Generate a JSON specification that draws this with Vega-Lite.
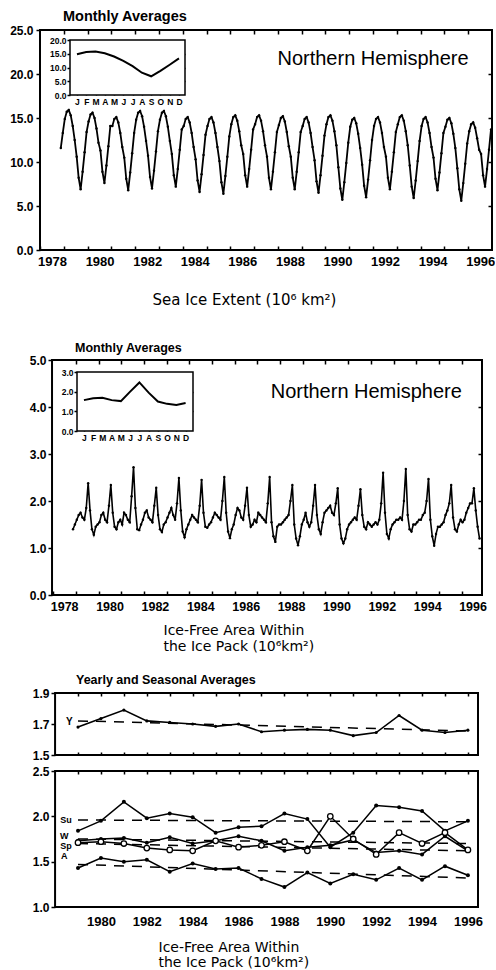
{
"$schema": "https://vega.github.io/schema/vega-lite/v6.json",
"padding": {"left": 9, "top": 8, "right": 0, "bottom": 0},
"config": {
  "view": {"stroke": null},
  "axis": {"grid": false, "domain": false, "labelFont": "Liberation Sans", "labelFontWeight": "bold", "labelColor": "black", "tickColor": "black", "tickWidth": 1.5, "titleFont": "DejaVu Sans", "titleFontWeight": "normal", "titleColor": "black", "labelFlush": false, "labelOverlap": false},
  "title": {"font": "Liberation Sans", "fontWeight": "bold", "color": "black", "anchor": "start", "frame": "group"}
},
"datasets": {
  "ext": [
    {"t":1978.875,"v":11.6},{"t":1978.958,"v":13.3},
    {"t":1979.042,"v":14.9},{"t":1979.125,"v":15.7},{"t":1979.208,"v":15.9},{"t":1979.292,"v":15.3},{"t":1979.375,"v":14.1},{"t":1979.458,"v":12.5},{"t":1979.542,"v":10.6},{"t":1979.625,"v":8.2},{"t":1979.708,"v":6.9},{"t":1979.792,"v":8.9},{"t":1979.875,"v":11.1},{"t":1979.958,"v":13.4},
    {"t":1980.042,"v":14.6},{"t":1980.125,"v":15.4},{"t":1980.208,"v":15.6},{"t":1980.292,"v":15.0},{"t":1980.375,"v":13.8},{"t":1980.458,"v":12.2},{"t":1980.542,"v":11.3},{"t":1980.625,"v":8.9},{"t":1980.708,"v":7.6},{"t":1980.792,"v":9.6},{"t":1980.875,"v":11.8},{"t":1980.958,"v":14.1},
    {"t":1981.042,"v":14.1},{"t":1981.125,"v":14.9},{"t":1981.208,"v":15.1},{"t":1981.292,"v":14.5},{"t":1981.375,"v":13.3},{"t":1981.458,"v":11.7},{"t":1981.542,"v":10.5},{"t":1981.625,"v":8.1},{"t":1981.708,"v":6.8},{"t":1981.792,"v":8.8},{"t":1981.875,"v":11.0},{"t":1981.958,"v":13.3},
    {"t":1982.042,"v":14.8},{"t":1982.125,"v":15.6},{"t":1982.208,"v":15.8},{"t":1982.292,"v":15.2},{"t":1982.375,"v":14.0},{"t":1982.458,"v":12.4},{"t":1982.542,"v":10.7},{"t":1982.625,"v":8.3},{"t":1982.708,"v":7.0},{"t":1982.792,"v":9.0},{"t":1982.875,"v":11.2},{"t":1982.958,"v":13.5},
    {"t":1983.042,"v":14.8},{"t":1983.125,"v":15.6},{"t":1983.208,"v":15.8},{"t":1983.292,"v":15.2},{"t":1983.375,"v":14.0},{"t":1983.458,"v":12.4},{"t":1983.542,"v":10.9},{"t":1983.625,"v":8.5},{"t":1983.708,"v":7.2},{"t":1983.792,"v":9.2},{"t":1983.875,"v":11.4},{"t":1983.958,"v":13.7},
    {"t":1984.042,"v":14.1},{"t":1984.125,"v":14.9},{"t":1984.208,"v":15.1},{"t":1984.292,"v":14.5},{"t":1984.375,"v":13.3},{"t":1984.458,"v":11.7},{"t":1984.542,"v":10.3},{"t":1984.625,"v":7.9},{"t":1984.708,"v":6.6},{"t":1984.792,"v":8.6},{"t":1984.875,"v":10.8},{"t":1984.958,"v":13.1},
    {"t":1985.042,"v":14.1},{"t":1985.125,"v":14.9},{"t":1985.208,"v":15.1},{"t":1985.292,"v":14.5},{"t":1985.375,"v":13.3},{"t":1985.458,"v":11.7},{"t":1985.542,"v":10.1},{"t":1985.625,"v":7.7},{"t":1985.708,"v":6.4},{"t":1985.792,"v":8.4},{"t":1985.875,"v":10.6},{"t":1985.958,"v":12.9},
    {"t":1986.042,"v":14.3},{"t":1986.125,"v":15.1},{"t":1986.208,"v":15.3},{"t":1986.292,"v":14.7},{"t":1986.375,"v":13.5},{"t":1986.458,"v":11.9},{"t":1986.542,"v":10.9},{"t":1986.625,"v":8.5},{"t":1986.708,"v":7.2},{"t":1986.792,"v":9.2},{"t":1986.875,"v":11.4},{"t":1986.958,"v":13.7},
    {"t":1987.042,"v":14.3},{"t":1987.125,"v":15.1},{"t":1987.208,"v":15.3},{"t":1987.292,"v":14.7},{"t":1987.375,"v":13.5},{"t":1987.458,"v":11.9},{"t":1987.542,"v":10.6},{"t":1987.625,"v":8.2},{"t":1987.708,"v":6.9},{"t":1987.792,"v":8.9},{"t":1987.875,"v":11.1},{"t":1987.958,"v":13.4},
    {"t":1988.042,"v":14.2},{"t":1988.125,"v":15.0},{"t":1988.208,"v":15.2},{"t":1988.292,"v":14.6},{"t":1988.375,"v":13.4},{"t":1988.458,"v":11.8},{"t":1988.542,"v":10.6},{"t":1988.625,"v":8.2},{"t":1988.708,"v":6.9},{"t":1988.792,"v":8.9},{"t":1988.875,"v":11.1},{"t":1988.958,"v":13.4},
    {"t":1989.042,"v":14.1},{"t":1989.125,"v":14.9},{"t":1989.208,"v":15.1},{"t":1989.292,"v":14.5},{"t":1989.375,"v":13.3},{"t":1989.458,"v":11.7},{"t":1989.542,"v":10.2},{"t":1989.625,"v":7.8},{"t":1989.708,"v":6.5},{"t":1989.792,"v":8.5},{"t":1989.875,"v":10.7},{"t":1989.958,"v":13.0},
    {"t":1990.042,"v":14.3},{"t":1990.125,"v":15.1},{"t":1990.208,"v":15.3},{"t":1990.292,"v":14.7},{"t":1990.375,"v":13.5},{"t":1990.458,"v":11.9},{"t":1990.542,"v":9.4},{"t":1990.625,"v":7.0},{"t":1990.708,"v":5.7},{"t":1990.792,"v":7.7},{"t":1990.875,"v":9.9},{"t":1990.958,"v":12.2},
    {"t":1991.042,"v":14.0},{"t":1991.125,"v":14.8},{"t":1991.208,"v":15.0},{"t":1991.292,"v":14.4},{"t":1991.375,"v":13.2},{"t":1991.458,"v":11.6},{"t":1991.542,"v":9.7},{"t":1991.625,"v":7.3},{"t":1991.708,"v":6.0},{"t":1991.792,"v":8.0},{"t":1991.875,"v":10.2},{"t":1991.958,"v":12.5},
    {"t":1992.042,"v":14.1},{"t":1992.125,"v":14.9},{"t":1992.208,"v":15.1},{"t":1992.292,"v":14.5},{"t":1992.375,"v":13.3},{"t":1992.458,"v":11.7},{"t":1992.542,"v":10.6},{"t":1992.625,"v":8.2},{"t":1992.708,"v":6.9},{"t":1992.792,"v":8.9},{"t":1992.875,"v":11.1},{"t":1992.958,"v":13.4},
    {"t":1993.042,"v":14.3},{"t":1993.125,"v":15.1},{"t":1993.208,"v":15.3},{"t":1993.292,"v":14.7},{"t":1993.375,"v":13.5},{"t":1993.458,"v":11.9},{"t":1993.542,"v":9.6},{"t":1993.625,"v":7.2},{"t":1993.708,"v":5.9},{"t":1993.792,"v":7.9},{"t":1993.875,"v":10.1},{"t":1993.958,"v":12.4},
    {"t":1994.042,"v":14.1},{"t":1994.125,"v":14.9},{"t":1994.208,"v":15.1},{"t":1994.292,"v":14.5},{"t":1994.375,"v":13.3},{"t":1994.458,"v":11.7},{"t":1994.542,"v":10.5},{"t":1994.625,"v":8.1},{"t":1994.708,"v":6.8},{"t":1994.792,"v":8.8},{"t":1994.875,"v":11.0},{"t":1994.958,"v":13.3},
    {"t":1995.042,"v":14.0},{"t":1995.125,"v":14.8},{"t":1995.208,"v":15.0},{"t":1995.292,"v":14.4},{"t":1995.375,"v":13.2},{"t":1995.458,"v":11.6},{"t":1995.542,"v":9.3},{"t":1995.625,"v":6.9},{"t":1995.708,"v":5.6},{"t":1995.792,"v":7.6},{"t":1995.875,"v":9.8},{"t":1995.958,"v":12.1},
    {"t":1996.042,"v":13.5},{"t":1996.125,"v":14.3},{"t":1996.208,"v":14.5},{"t":1996.292,"v":13.9},{"t":1996.375,"v":12.7},{"t":1996.458,"v":11.4},{"t":1996.542,"v":10.9},{"t":1996.625,"v":8.5},{"t":1996.708,"v":7.2},{"t":1996.792,"v":9.2},{"t":1996.875,"v":11.4},{"t":1996.958,"v":13.7}
  ],
  "extClim": [
    {"m":1,"v":14.8},{"m":2,"v":15.6},{"m":3,"v":15.8},{"m":4,"v":15.2},{"m":5,"v":14.0},{"m":6,"v":12.4},{"m":7,"v":10.5},{"m":8,"v":8.1},{"m":9,"v":6.8},{"m":10,"v":8.8},{"m":11,"v":11.0},{"m":12,"v":13.3}
  ],
  "ifa": [
    {"t":1978.875,"v":1.40},{"t":1978.958,"v":1.50},
    {"t":1979.042,"v":1.60},{"t":1979.125,"v":1.70},{"t":1979.208,"v":1.75},{"t":1979.292,"v":1.65},{"t":1979.375,"v":1.60},{"t":1979.458,"v":1.85},{"t":1979.542,"v":2.38},{"t":1979.625,"v":1.80},{"t":1979.708,"v":1.40},{"t":1979.792,"v":1.28},{"t":1979.875,"v":1.45},{"t":1979.958,"v":1.50},
    {"t":1980.042,"v":1.55},{"t":1980.125,"v":1.70},{"t":1980.208,"v":1.75},{"t":1980.292,"v":1.60},{"t":1980.375,"v":1.55},{"t":1980.458,"v":1.90},{"t":1980.542,"v":2.34},{"t":1980.625,"v":1.75},{"t":1980.708,"v":1.45},{"t":1980.792,"v":1.40},{"t":1980.875,"v":1.55},{"t":1980.958,"v":1.60},
    {"t":1981.042,"v":1.50},{"t":1981.125,"v":1.75},{"t":1981.208,"v":1.70},{"t":1981.292,"v":1.60},{"t":1981.375,"v":1.55},{"t":1981.458,"v":2.10},{"t":1981.542,"v":2.72},{"t":1981.625,"v":1.85},{"t":1981.708,"v":1.40},{"t":1981.792,"v":1.38},{"t":1981.875,"v":1.50},{"t":1981.958,"v":1.60},
    {"t":1982.042,"v":1.75},{"t":1982.125,"v":1.80},{"t":1982.208,"v":1.65},{"t":1982.292,"v":1.60},{"t":1982.375,"v":1.55},{"t":1982.458,"v":1.90},{"t":1982.542,"v":2.28},{"t":1982.625,"v":1.70},{"t":1982.708,"v":1.40},{"t":1982.792,"v":1.34},{"t":1982.875,"v":1.50},{"t":1982.958,"v":1.55},
    {"t":1983.042,"v":1.65},{"t":1983.125,"v":1.75},{"t":1983.208,"v":1.85},{"t":1983.292,"v":1.70},{"t":1983.375,"v":1.60},{"t":1983.458,"v":1.95},{"t":1983.542,"v":2.49},{"t":1983.625,"v":1.80},{"t":1983.708,"v":1.35},{"t":1983.792,"v":1.23},{"t":1983.875,"v":1.40},{"t":1983.958,"v":1.50},
    {"t":1984.042,"v":1.60},{"t":1984.125,"v":1.70},{"t":1984.208,"v":1.65},{"t":1984.292,"v":1.60},{"t":1984.375,"v":1.55},{"t":1984.458,"v":1.90},{"t":1984.542,"v":2.45},{"t":1984.625,"v":1.75},{"t":1984.708,"v":1.45},{"t":1984.792,"v":1.43},{"t":1984.875,"v":1.50},{"t":1984.958,"v":1.55},
    {"t":1985.042,"v":1.65},{"t":1985.125,"v":1.75},{"t":1985.208,"v":1.70},{"t":1985.292,"v":1.65},{"t":1985.375,"v":1.60},{"t":1985.458,"v":2.00},{"t":1985.542,"v":2.51},{"t":1985.625,"v":1.75},{"t":1985.708,"v":1.35},{"t":1985.792,"v":1.21},{"t":1985.875,"v":1.40},{"t":1985.958,"v":1.50},
    {"t":1986.042,"v":1.70},{"t":1986.125,"v":1.85},{"t":1986.208,"v":1.80},{"t":1986.292,"v":1.65},{"t":1986.375,"v":1.60},{"t":1986.458,"v":1.90},{"t":1986.542,"v":2.28},{"t":1986.625,"v":1.70},{"t":1986.708,"v":1.45},{"t":1986.792,"v":1.50},{"t":1986.875,"v":1.60},{"t":1986.958,"v":1.55},
    {"t":1987.042,"v":1.75},{"t":1987.125,"v":1.70},{"t":1987.208,"v":1.65},{"t":1987.292,"v":1.60},{"t":1987.375,"v":1.55},{"t":1987.458,"v":1.95},{"t":1987.542,"v":2.51},{"t":1987.625,"v":1.55},{"t":1987.708,"v":1.25},{"t":1987.792,"v":1.13},{"t":1987.875,"v":1.45},{"t":1987.958,"v":1.50},
    {"t":1988.042,"v":1.50},{"t":1988.125,"v":1.55},{"t":1988.208,"v":1.60},{"t":1988.292,"v":1.65},{"t":1988.375,"v":1.70},{"t":1988.458,"v":2.00},{"t":1988.542,"v":2.34},{"t":1988.625,"v":1.50},{"t":1988.708,"v":1.20},{"t":1988.792,"v":1.06},{"t":1988.875,"v":1.25},{"t":1988.958,"v":1.50},
    {"t":1989.042,"v":1.60},{"t":1989.125,"v":1.75},{"t":1989.208,"v":1.55},{"t":1989.292,"v":1.45},{"t":1989.375,"v":1.55},{"t":1989.458,"v":1.90},{"t":1989.542,"v":2.34},{"t":1989.625,"v":1.70},{"t":1989.708,"v":1.40},{"t":1989.792,"v":1.30},{"t":1989.875,"v":1.55},{"t":1989.958,"v":1.75},
    {"t":1990.042,"v":1.80},{"t":1990.125,"v":1.85},{"t":1990.208,"v":1.90},{"t":1990.292,"v":1.75},{"t":1990.375,"v":1.70},{"t":1990.458,"v":1.95},{"t":1990.542,"v":2.27},{"t":1990.625,"v":1.50},{"t":1990.708,"v":1.20},{"t":1990.792,"v":1.10},{"t":1990.875,"v":1.20},{"t":1990.958,"v":1.40},
    {"t":1991.042,"v":1.50},{"t":1991.125,"v":1.55},{"t":1991.208,"v":1.60},{"t":1991.292,"v":1.65},{"t":1991.375,"v":1.60},{"t":1991.458,"v":1.90},{"t":1991.542,"v":2.25},{"t":1991.625,"v":1.70},{"t":1991.708,"v":1.45},{"t":1991.792,"v":1.40},{"t":1991.875,"v":1.55},{"t":1991.958,"v":1.50},
    {"t":1992.042,"v":1.45},{"t":1992.125,"v":1.50},{"t":1992.208,"v":1.55},{"t":1992.292,"v":1.50},{"t":1992.375,"v":1.60},{"t":1992.458,"v":1.95},{"t":1992.542,"v":2.60},{"t":1992.625,"v":1.75},{"t":1992.708,"v":1.30},{"t":1992.792,"v":1.20},{"t":1992.875,"v":1.40},{"t":1992.958,"v":1.50},
    {"t":1993.042,"v":1.55},{"t":1993.125,"v":1.60},{"t":1993.208,"v":1.60},{"t":1993.292,"v":1.65},{"t":1993.375,"v":1.60},{"t":1993.458,"v":2.00},{"t":1993.542,"v":2.68},{"t":1993.625,"v":1.70},{"t":1993.708,"v":1.40},{"t":1993.792,"v":1.35},{"t":1993.875,"v":1.50},{"t":1993.958,"v":1.50},
    {"t":1994.042,"v":1.55},{"t":1994.125,"v":1.60},{"t":1994.208,"v":1.60},{"t":1994.292,"v":1.70},{"t":1994.375,"v":1.75},{"t":1994.458,"v":2.00},{"t":1994.542,"v":2.47},{"t":1994.625,"v":1.60},{"t":1994.708,"v":1.25},{"t":1994.792,"v":1.05},{"t":1994.875,"v":1.30},{"t":1994.958,"v":1.45},
    {"t":1995.042,"v":1.45},{"t":1995.125,"v":1.50},{"t":1995.208,"v":1.55},{"t":1995.292,"v":1.70},{"t":1995.375,"v":1.80},{"t":1995.458,"v":1.95},{"t":1995.542,"v":2.34},{"t":1995.625,"v":1.65},{"t":1995.708,"v":1.40},{"t":1995.792,"v":1.35},{"t":1995.875,"v":1.50},{"t":1995.958,"v":1.60},
    {"t":1996.042,"v":1.55},{"t":1996.125,"v":1.60},{"t":1996.208,"v":1.75},{"t":1996.292,"v":1.85},{"t":1996.375,"v":1.95},{"t":1996.458,"v":1.95},{"t":1996.542,"v":2.27},{"t":1996.625,"v":1.80},{"t":1996.708,"v":1.45},{"t":1996.792,"v":1.20}
  ],
  "ifaClim": [
    {"m":1,"v":1.57},{"m":2,"v":1.66},{"m":3,"v":1.69},{"m":4,"v":1.57},{"m":5,"v":1.52},{"m":6,"v":2.0},{"m":7,"v":2.47},{"m":8,"v":1.95},{"m":9,"v":1.5},{"m":10,"v":1.38},{"m":11,"v":1.32},{"m":12,"v":1.42}
  ],
  "yearly": [
    {"yr":1979,"v":1.68},{"yr":1980,"v":1.735},{"yr":1981,"v":1.79},{"yr":1982,"v":1.72},{"yr":1983,"v":1.71},{"yr":1984,"v":1.70},{"yr":1985,"v":1.685},{"yr":1986,"v":1.70},{"yr":1987,"v":1.65},{"yr":1988,"v":1.66},{"yr":1989,"v":1.665},{"yr":1990,"v":1.66},{"yr":1991,"v":1.625},{"yr":1992,"v":1.645},{"yr":1993,"v":1.755},{"yr":1994,"v":1.66},{"yr":1995,"v":1.645},{"yr":1996,"v":1.66}
  ],
  "trendY": [
    {"yr":1979,"v":1.72},{"yr":1996,"v":1.655}
  ],
  "seas": [
    {"s":"Su","yr":1979,"v":1.84},{"s":"Su","yr":1980,"v":1.95},{"s":"Su","yr":1981,"v":2.16},{"s":"Su","yr":1982,"v":1.98},{"s":"Su","yr":1983,"v":2.03},{"s":"Su","yr":1984,"v":1.99},{"s":"Su","yr":1985,"v":1.82},{"s":"Su","yr":1986,"v":1.88},{"s":"Su","yr":1987,"v":1.89},{"s":"Su","yr":1988,"v":2.03},{"s":"Su","yr":1989,"v":1.97},{"s":"Su","yr":1990,"v":1.66},{"s":"Su","yr":1991,"v":1.82},{"s":"Su","yr":1992,"v":2.12},{"s":"Su","yr":1993,"v":2.10},{"s":"Su","yr":1994,"v":2.06},{"s":"Su","yr":1995,"v":1.84},{"s":"Su","yr":1996,"v":1.95},
    {"s":"W","yr":1979,"v":1.73},{"s":"W","yr":1980,"v":1.75},{"s":"W","yr":1981,"v":1.76},{"s":"W","yr":1982,"v":1.71},{"s":"W","yr":1983,"v":1.77},{"s":"W","yr":1984,"v":1.70},{"s":"W","yr":1985,"v":1.73},{"s":"W","yr":1986,"v":1.78},{"s":"W","yr":1987,"v":1.73},{"s":"W","yr":1988,"v":1.62},{"s":"W","yr":1989,"v":1.66},{"s":"W","yr":1990,"v":1.68},{"s":"W","yr":1991,"v":1.74},{"s":"W","yr":1992,"v":1.60},{"s":"W","yr":1993,"v":1.62},{"s":"W","yr":1994,"v":1.58},{"s":"W","yr":1995,"v":1.78},{"s":"W","yr":1996,"v":1.62},
    {"s":"Sp","yr":1979,"v":1.71},{"s":"Sp","yr":1980,"v":1.72},{"s":"Sp","yr":1981,"v":1.70},{"s":"Sp","yr":1982,"v":1.65},{"s":"Sp","yr":1983,"v":1.63},{"s":"Sp","yr":1984,"v":1.62},{"s":"Sp","yr":1985,"v":1.73},{"s":"Sp","yr":1986,"v":1.66},{"s":"Sp","yr":1987,"v":1.68},{"s":"Sp","yr":1988,"v":1.72},{"s":"Sp","yr":1989,"v":1.62},{"s":"Sp","yr":1990,"v":2.00},{"s":"Sp","yr":1991,"v":1.75},{"s":"Sp","yr":1992,"v":1.58},{"s":"Sp","yr":1993,"v":1.82},{"s":"Sp","yr":1994,"v":1.70},{"s":"Sp","yr":1995,"v":1.82},{"s":"Sp","yr":1996,"v":1.63},
    {"s":"A","yr":1979,"v":1.43},{"s":"A","yr":1980,"v":1.54},{"s":"A","yr":1981,"v":1.50},{"s":"A","yr":1982,"v":1.52},{"s":"A","yr":1983,"v":1.39},{"s":"A","yr":1984,"v":1.48},{"s":"A","yr":1985,"v":1.42},{"s":"A","yr":1986,"v":1.43},{"s":"A","yr":1987,"v":1.31},{"s":"A","yr":1988,"v":1.22},{"s":"A","yr":1989,"v":1.38},{"s":"A","yr":1990,"v":1.26},{"s":"A","yr":1991,"v":1.36},{"s":"A","yr":1992,"v":1.30},{"s":"A","yr":1993,"v":1.43},{"s":"A","yr":1994,"v":1.30},{"s":"A","yr":1995,"v":1.45},{"s":"A","yr":1996,"v":1.35}
  ],
  "trendS": [
    {"s":"Su","yr":1979,"v":1.96},{"s":"Su","yr":1996,"v":1.94},
    {"s":"W","yr":1979,"v":1.75},{"s":"W","yr":1996,"v":1.70},
    {"s":"Sp","yr":1979,"v":1.70},{"s":"Sp","yr":1996,"v":1.62},
    {"s":"A","yr":1979,"v":1.47},{"s":"A","yr":1996,"v":1.32}
  ],
  "labs": [
    {"s":"Su","yr":1978.48,"v":1.96},{"s":"W","yr":1978.4,"v":1.78},{"s":"Sp","yr":1978.48,"v":1.67},{"s":"A","yr":1978.4,"v":1.56}
  ]
},
"vconcat": [
  {
    "width": 452, "height": 220,
    "title": {"text": "Monthly Averages", "dx": 23, "offset": 0, "fontSize": 14.5},
    "layer": [
      {"layer": [
        {"data": {"values": [{}]},
         "mark": {"type": "rect", "fill": null, "stroke": "black", "strokeWidth": 2},
         "encoding": {
           "x": {"datum": 1978, "type": "quantitative", "scale": {"domain": [1978, 1997], "nice": false, "zero": false},
                 "axis": {"orient": "top", "values": [1979,1980,1981,1982,1983,1984,1985,1986,1987,1988,1989,1990,1991,1992,1993,1994,1995,1996], "tickCount": 25, "labels": false, "tickSize": -4, "title": null}},
           "x2": {"datum": 1997},
           "y": {"datum": 0, "type": "quantitative", "scale": {"domain": [0, 25], "nice": false, "zero": false},
                 "axis": {"orient": "right", "values": [5,10,15,20], "tickCount": 10, "labels": false, "tickSize": -4, "title": null}},
           "y2": {"datum": 25}
         }},
        {"layer": [
          {"data": {"name": "ext"},
           "mark": {"type": "line", "color": "black", "strokeWidth": 1.8, "point": {"filled": true, "size": 6, "color": "black"}},
           "encoding": {
             "x": {"field": "t", "type": "quantitative",
                   "axis": {"orient": "bottom", "values": [1978,1979,1980,1981,1982,1983,1984,1985,1986,1987,1988,1989,1990,1991,1992,1993,1994,1995,1996], "tickCount": 25, "format": "d", "labelExpr": "datum.value % 2 == 0 ? datum.label : ''", "labelOffset": 12, "tickSize": -4, "labelPadding": 9, "labelFontSize": 13, "title": "Sea Ice Extent (10⁶ km²)", "titleFontSize": 15, "titleX": 204, "titleY": 49, "titleBaseline": "middle", "titleAlign": "center"}},
             "y": {"field": "v", "type": "quantitative",
                   "axis": {"orient": "left", "values": [0,5,10,15,20,25], "tickCount": 10, "format": ".1f", "tickSize": 4, "labelPadding": 3, "labelFontSize": 12, "title": null}}
           }},
          {"data": {"values": [{}]},
           "mark": {"type": "text", "text": "Northern Hemisphere", "font": "Liberation Sans", "fontSize": 20, "align": "center", "baseline": "alphabetic"},
           "encoding": {"x": {"datum": 1992.0, "type": "quantitative"}, "y": {"datum": 21.0, "type": "quantitative"}}}
        ]}
      ],
      "resolve": {"axis": {"x": "independent", "y": "independent"}}},
      {"layer": [
        {"data": {"values": [{}]},
         "mark": {"type": "rect", "fill": "white", "stroke": "black", "strokeWidth": 1.5},
         "encoding": {
           "x": {"datum": 0.25, "type": "quantitative", "scale": {"domain": [0.25, 12.65], "range": [30, 145], "nice": false, "zero": false},
                 "axis": {"orient": "top", "offset": -10, "values": [1,2,3,4,5,6,7,8,9,10,11,12], "tickCount": 20, "labels": false, "tickSize": -3, "title": null}},
           "x2": {"datum": 12.65},
           "y": {"datum": 0, "type": "quantitative", "scale": {"domain": [0, 20], "range": [65, 10], "nice": false, "zero": false},
                 "axis": {"orient": "right", "offset": -307, "values": [5,10,15], "tickCount": 10, "labels": false, "tickSize": -3, "title": null}},
           "y2": {"datum": 20}
         }},
        {"data": {"name": "extClim"},
         "mark": {"type": "line", "color": "black", "strokeWidth": 2},
         "encoding": {
           "x": {"field": "m", "type": "quantitative",
                 "axis": {"orient": "bottom", "offset": -155, "values": [1,2,3,4,5,6,7,8,9,10,11,12], "tickCount": 20, "labelExpr": "substring('JFMAMJJASOND', datum.value - 1, datum.value)", "tickSize": -3, "labelPadding": 5, "labelFontSize": 8.5, "title": null}},
           "y": {"field": "v", "type": "quantitative",
                 "axis": {"orient": "left", "offset": -30, "values": [0,5,10,15,20], "tickCount": 10, "format": ".1f", "tickSize": 3, "labelPadding": 1, "labelFontSize": 8.5, "title": null}}
         }}
      ],
      "resolve": {"axis": {"x": "independent", "y": "independent"}}}
    ],
    "resolve": {"scale": {"x": "independent", "y": "independent"}}
  },
  {
    "bounds": "flush",
    "spacing": 98,
    "vconcat": [
      {
        "width": 442, "height": 235,
        "title": {"text": "Monthly Averages", "dx": 35, "offset": 0, "fontSize": 12.5},
        "layer": [
          {"layer": [
            {"data": {"values": [{}]},
             "mark": {"type": "rect", "fill": null, "stroke": "black", "strokeWidth": 2},
             "encoding": {
               "x": {"datum": 1977.95, "type": "quantitative", "scale": {"domain": [1977.42, 1996.9], "nice": false, "zero": false},
                     "axis": {"orient": "top", "values": [1979,1980,1981,1982,1983,1984,1985,1986,1987,1988,1989,1990,1991,1992,1993,1994,1995,1996], "tickCount": 25, "labels": false, "tickSize": -4, "title": null}},
               "x2": {"datum": 1996.9},
               "y": {"datum": 0, "type": "quantitative", "scale": {"domain": [0, 5], "nice": false, "zero": false},
                     "axis": {"orient": "right", "values": [1,2,3,4], "tickCount": 10, "labels": false, "tickSize": -4, "title": null}},
               "y2": {"datum": 5}
             }},
            {"layer": [
              {"data": {"name": "ifa"},
               "mark": {"type": "line", "color": "black", "strokeWidth": 1.6, "point": {"filled": true, "size": 6, "color": "black"}},
               "encoding": {
                 "x": {"field": "t", "type": "quantitative",
                       "axis": {"orient": "bottom", "values": [1978,1979,1980,1981,1982,1983,1984,1985,1986,1987,1988,1989,1990,1991,1992,1993,1994,1995,1996], "tickCount": 25, "format": "d", "labelExpr": "datum.value % 2 == 0 ? datum.label : ''", "labelOffset": 11, "tickSize": -4, "labelPadding": 9, "labelFontSize": 12.5, "title": ["Ice-Free Area Within", "the Ice Pack (10⁶km²)"], "titleFontSize": 14, "titleX": 123, "titleY": 28, "titleBaseline": "top", "titleAlign": "left", "titleLineHeight": 16}},
                 "y": {"field": "v", "type": "quantitative",
                       "axis": {"orient": "left", "values": [0,1,2,3,4,5], "tickCount": 10, "format": ".1f", "offset": -12, "tickSize": 4, "labelPadding": 2, "labelFontSize": 12, "title": null}}
               }},
              {"data": {"values": [{}]},
               "mark": {"type": "text", "text": "Northern Hemisphere", "font": "Liberation Sans", "fontSize": 20, "align": "center", "baseline": "alphabetic"},
               "encoding": {"x": {"datum": 1991.8, "type": "quantitative"}, "y": {"datum": 4.19, "type": "quantitative"}}}
            ]}
          ],
          "resolve": {"axis": {"x": "independent", "y": "independent"}}},
          {"layer": [
            {"data": {"values": [{}]},
             "mark": {"type": "rect", "fill": "white", "stroke": "black", "strokeWidth": 1.5},
             "encoding": {
               "x": {"datum": 0.25, "type": "quantitative", "scale": {"domain": [0.25, 12.8], "range": [37, 153], "nice": false, "zero": false},
                     "axis": {"orient": "top", "offset": -12, "values": [1,2,3,4,5,6,7,8,9,10,11,12], "tickCount": 20, "labels": false, "tickSize": -3, "title": null}},
               "x2": {"datum": 12.8},
               "y": {"datum": 0, "type": "quantitative", "scale": {"domain": [0, 3], "range": [71, 12], "nice": false, "zero": false},
                     "axis": {"orient": "right", "offset": -289, "values": [1,2], "tickCount": 10, "labels": false, "tickSize": -3, "title": null}},
               "y2": {"datum": 3}
             }},
            {"data": {"name": "ifaClim"},
             "mark": {"type": "line", "color": "black", "strokeWidth": 2},
             "encoding": {
               "x": {"field": "m", "type": "quantitative",
                     "axis": {"orient": "bottom", "offset": -164, "values": [1,2,3,4,5,6,7,8,9,10,11,12], "tickCount": 20, "labelExpr": "substring('JFMAMJJASOND', datum.value - 1, datum.value)", "tickSize": -3, "labelPadding": 5, "labelFontSize": 8.5, "title": null}},
               "y": {"field": "v", "type": "quantitative",
                     "axis": {"orient": "left", "offset": -37, "values": [0,1,2,3], "tickCount": 10, "format": ".1f", "tickSize": 3, "labelPadding": 1, "labelFontSize": 8.5, "title": null}}
             }}
          ],
          "resolve": {"axis": {"x": "independent", "y": "independent"}}}
        ],
        "resolve": {"scale": {"x": "independent", "y": "independent"}}
      },
      {
        "bounds": "flush",
        "spacing": 16,
        "vconcat": [
          {
            "width": 438, "height": 62,
            "title": {"text": "Yearly and Seasonal Averages", "dx": 36, "offset": 1, "fontSize": 12.5},
            "layer": [
              {"data": {"values": [{}]},
               "mark": {"type": "rect", "fill": null, "stroke": "black", "strokeWidth": 2},
               "encoding": {
                 "x": {"datum": 1978.0, "type": "quantitative", "scale": {"domain": [1977.343, 1996.44], "nice": false, "zero": false},
                       "axis": {"orient": "top", "values": [1979,1980,1981,1982,1983,1984,1985,1986,1987,1988,1989,1990,1991,1992,1993,1994,1995,1996], "tickCount": 25, "labels": false, "tickSize": -3, "title": null}},
                 "x2": {"datum": 1996.44},
                 "y": {"datum": 1.5, "type": "quantitative", "scale": {"domain": [1.5, 1.9], "nice": false, "zero": false},
                       "axis": {"orient": "right", "ticks": false, "labels": false, "title": null}},
                 "y2": {"datum": 1.9}
               }},
              {"layer": [
                {"data": {"name": "trendY"},
                 "mark": {"type": "line", "color": "black", "strokeWidth": 1.5, "strokeDash": [10, 8]},
                 "encoding": {"x": {"field": "yr", "type": "quantitative"}, "y": {"field": "v", "type": "quantitative"}}},
                {"data": {"name": "yearly"},
                 "mark": {"type": "line", "color": "black", "strokeWidth": 1.6, "point": {"filled": true, "size": 10, "color": "black"}},
                 "encoding": {
                   "x": {"field": "yr", "type": "quantitative",
                         "axis": {"orient": "bottom", "values": [1979,1980,1981,1982,1983,1984,1985,1986,1987,1988,1989,1990,1991,1992,1993,1994,1995,1996], "tickCount": 25, "labels": false, "tickSize": -3, "title": null}},
                   "y": {"field": "v", "type": "quantitative",
                         "axis": {"orient": "left", "values": [1.5, 1.7, 1.9], "tickCount": 10, "format": ".1f", "offset": -15, "tickSize": 4, "labelPadding": 2, "labelFontSize": 12, "title": null}}
                 }},
                {"data": {"values": [{"s": "Y", "yr": 1978.62, "v": 1.712}]},
                 "mark": {"type": "text", "font": "Liberation Sans", "fontWeight": "bold", "fontSize": 10, "align": "center", "baseline": "middle"},
                 "encoding": {"x": {"field": "yr", "type": "quantitative"}, "y": {"field": "v", "type": "quantitative"}, "text": {"field": "s"}}}
              ]}
            ],
            "resolve": {"axis": {"x": "independent", "y": "independent"}}
          },
          {
            "width": 438, "height": 136,
            "layer": [
              {"data": {"values": [{}]},
               "mark": {"type": "rect", "fill": null, "stroke": "black", "strokeWidth": 2},
               "encoding": {
                 "x": {"datum": 1978.0, "type": "quantitative", "scale": {"domain": [1977.343, 1996.44], "nice": false, "zero": false},
                       "axis": {"orient": "top", "values": [1979,1980,1981,1982,1983,1984,1985,1986,1987,1988,1989,1990,1991,1992,1993,1994,1995,1996], "tickCount": 25, "labels": false, "tickSize": -3, "title": null}},
                 "x2": {"datum": 1996.44},
                 "y": {"datum": 1.0, "type": "quantitative", "scale": {"domain": [1.0, 2.5], "nice": false, "zero": false},
                       "axis": {"orient": "right", "ticks": false, "labels": false, "title": null}},
                 "y2": {"datum": 2.5}
               }},
              {"layer": [
                {"data": {"name": "trendS"},
                 "mark": {"type": "line", "color": "black", "strokeWidth": 1.5, "strokeDash": [10, 8]},
                 "encoding": {"x": {"field": "yr", "type": "quantitative"}, "y": {"field": "v", "type": "quantitative"}, "detail": {"field": "s"}}},
                {"data": {"name": "seas"},
                 "mark": {"type": "line", "color": "black", "strokeWidth": 1.5},
                 "encoding": {
                   "x": {"field": "yr", "type": "quantitative",
                         "axis": {"orient": "bottom", "values": [1980,1982,1984,1986,1988,1990,1992,1994,1996], "tickCount": 20, "format": "d", "ticks": false, "labelPadding": 8, "labelFontSize": 13, "title": ["Ice-Free Area Within", "the Ice Pack (10⁶km²)"], "titleFontSize": 14, "titleX": 118, "titleY": 33, "titleBaseline": "top", "titleAlign": "left", "titleLineHeight": 15}},
                   "y": {"field": "v", "type": "quantitative",
                         "axis": {"orient": "left", "values": [1.0, 1.5, 2.0, 2.5], "tickCount": 10, "format": ".1f", "offset": -15, "tickSize": 4, "labelPadding": 2, "labelFontSize": 12, "title": null}},
                   "detail": {"field": "s"}
                 }},
                {"data": {"name": "seas"},
                 "transform": [{"filter": "datum.s != 'Sp'"}],
                 "mark": {"type": "point", "filled": true, "color": "black", "size": 16, "opacity": 1},
                 "encoding": {"x": {"field": "yr", "type": "quantitative"}, "y": {"field": "v", "type": "quantitative"}}},
                {"data": {"name": "seas"},
                 "transform": [{"filter": "datum.s == 'Sp'"}],
                 "mark": {"type": "point", "filled": false, "color": "black", "size": 30, "strokeWidth": 1.3, "opacity": 1, "fill": "white"},
                 "encoding": {"x": {"field": "yr", "type": "quantitative"}, "y": {"field": "v", "type": "quantitative"}}},
                {"data": {"name": "labs"},
                 "mark": {"type": "text", "font": "Liberation Sans", "fontWeight": "bold", "fontSize": 9, "align": "center", "baseline": "middle"},
                 "encoding": {"x": {"field": "yr", "type": "quantitative"}, "y": {"field": "v", "type": "quantitative"}, "text": {"field": "s"}}}
              ]}
            ],
            "resolve": {"axis": {"x": "independent", "y": "independent"}}
          }
        ]
      }
    ]
  }
],
"spacing": 110,
"bounds": "flush"
}
